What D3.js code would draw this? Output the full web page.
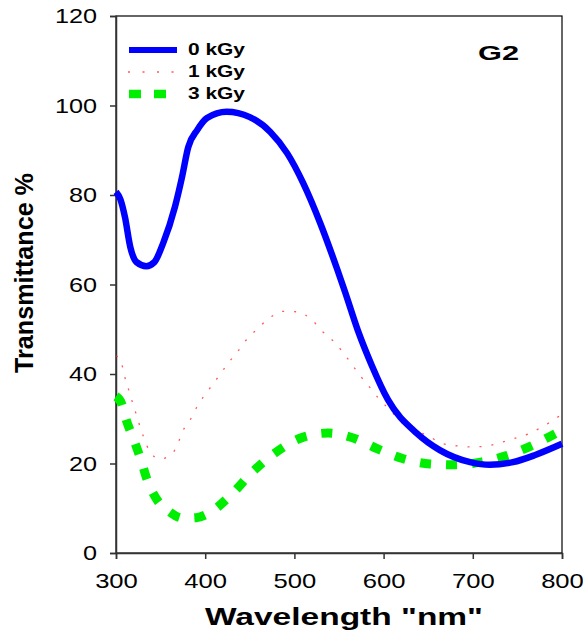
<!DOCTYPE html>
<html>
<head>
<meta charset="utf-8">
<script src="https://cdn.jsdelivr.net/npm/d3@7/dist/d3.min.js"></script>
<style>
  body { margin: 0; background: #fff; }
  text { font-family: Arial, "Liberation Sans", sans-serif; }
</style>
</head>
<body>
<div id="chart"></div>
<script>
// 0 kGy
var wl0 = [300,305,310,316,323,334,343,353,366,374,381,391,402,424,450,473,492,510,529,548,557,571,587,605,637,663,697,719,745,770,800];
var t0  = [80.7,79,75.1,68.4,65,64.1,65,69.3,77.3,84,90.7,94.5,97.2,98.6,97.4,94.1,89.3,82.6,73.7,63.4,58.2,49.8,41.8,34.2,26.8,23,20.3,19.7,20.3,21.9,24.4];

// 1 kGy
var wl1 = [300,304,308,311,315,319,323,327,331,337,349,363,370,375,383,390,398,407,417,426,436,446,458,472,487,503,520,532,545,555,565,575,585,595,607,621,636,652,667,684,699,715,730,745,762,778,794,800];
var t1  = [44,43.6,41,38.4,36,33.3,30.8,28.2,25.9,23,21,22.2,24.8,27.3,29.7,32.4,34.9,37.3,40,42.5,44.9,47.6,50,52.5,54,53.9,52,49.4,47.1,44.7,42,39.3,36.9,34.4,32,29,27.5,25.9,24.4,23.9,23.7,23.9,24.6,25.5,26.6,28.2,30.2,31];

// 3 kGy
var wl3 = [300,306,311,320,328,335,347,360,375,390,404,431,453,480,510,538,566,594,623,652,680,709,737,765,794,800];
var t3  = [35,33.5,30,25.3,20.8,16.3,11.6,9.2,7.8,7.9,8.9,13.4,18.1,22.6,25.9,26.8,25.7,23.2,21,19.9,19.7,20.3,21.7,23.9,26.8,27.4];

var xTicks = [300,400,500,600,700,800];
var yTicks = [0,20,40,60,80,100,120];
var seriesNames = ["0 kGy","1 kGy","3 kGy"];

var W = 583, H = 635;
var padL = 116, padR = 562, padT = 16, padB = 553;

var svg = d3.select("#chart").append("svg")
            .attr("width", W)
            .attr("height", H);

var x = d3.scaleLinear().domain([300,800]).range([padL,padR]);
var y = d3.scaleLinear().domain([0,120]).range([padB,padT]);

// the source picture is stretched sideways, so widen the glyphs
function widen(sel, k) {
  sel.each(function() {
    var len = this.getComputedTextLength();
    d3.select(this).attr("textLength", len * k).attr("lengthAdjust", "spacingAndGlyphs");
  });
}

// frame
svg.append("rect")
   .attr("x", padL).attr("y", padT)
   .attr("width", padR-padL).attr("height", padB-padT)
   .attr("fill", "none").attr("stroke", "#000").attr("stroke-width", 1.2);

var xAxis = svg.append("g")
   .attr("transform", "translate(0," + padB + ")")
   .call(d3.axisBottom(x).tickValues(xTicks).tickSize(6).tickPadding(14));
var yAxis = svg.append("g")
   .attr("transform", "translate(" + padL + ",0)")
   .call(d3.axisLeft(y).tickValues(yTicks).tickSize(6).tickPadding(13));

[xAxis, yAxis].forEach(function(a) {
  a.select(".domain").attr("stroke", "#333").attr("stroke-width", 1.5);
  a.selectAll(".tick line").attr("stroke", "#333").attr("stroke-width", 1.5);
  a.selectAll(".tick text")
   .attr("fill", "#000")
   .style("font-size", "21px")
   .style("font-family", "Arial, 'Liberation Sans', sans-serif");
});
widen(xAxis.selectAll(".tick text"), 1.22);
widen(yAxis.selectAll(".tick text"), 1.2);

var line = d3.line()
   .x(function(d) { return x(d[0]); })
   .y(function(d) { return y(d[1]); })
   .curve(d3.curveMonotoneX);

var plot = svg.append("g");

plot.append("path")
   .datum(d3.zip(wl3, t3))
   .attr("d", line)
   .attr("fill", "none")
   .attr("stroke", "#00ee00")
   .attr("stroke-width", 9)
   .attr("stroke-dasharray", "11,15");

plot.append("path")
   .datum(d3.zip(wl1, t1))
   .attr("d", line)
   .attr("fill", "none")
   .attr("stroke", "#ff3030")
   .attr("stroke-opacity", 0.8)
   .attr("stroke-width", 1.3)
   .attr("stroke-dasharray", "2,10");

plot.append("path")
   .datum(d3.zip(wl0, t0))
   .attr("d", line)
   .attr("fill", "none")
   .attr("stroke", "#0000ff")
   .attr("stroke-width", 6.5);

// legend
var legY = [50, 72, 94];
var leg = svg.append("g");
leg.append("line").attr("x1", 129).attr("x2", 177).attr("y1", legY[0]).attr("y2", legY[0])
   .attr("stroke", "#0000ff").attr("stroke-width", 6);
leg.append("line").attr("x1", 128).attr("x2", 177).attr("y1", legY[1]).attr("y2", legY[1])
   .attr("stroke", "#ff3030").attr("stroke-opacity", 0.8).attr("stroke-width", 1.3)
   .attr("stroke-dasharray", "2,12.5");
leg.append("line").attr("x1", 129).attr("x2", 177).attr("y1", legY[2]).attr("y2", legY[2])
   .attr("stroke", "#00ee00").attr("stroke-width", 8.5).attr("stroke-dasharray", "12,13");
var legText = leg.selectAll("text")
   .data(seriesNames)
   .enter()
   .append("text")
   .attr("x", 188)
   .attr("y", function(d, i) { return legY[i] + 5; })
   .style("font-size", "16.5px")
   .style("font-weight", "bold")
   .text(function(d) { return d; });
legText.attr("textLength", 57).attr("lengthAdjust", "spacingAndGlyphs");

svg.append("text")
   .attr("x", 498.5).attr("y", 60)
   .attr("text-anchor", "middle")
   .style("font-size", "21px")
   .style("font-weight", "bold")
   .attr("textLength", 41).attr("lengthAdjust", "spacingAndGlyphs")
   .text("G2");

svg.append("text")
   .attr("transform", "translate(33,273) rotate(-90)")
   .attr("text-anchor", "middle")
   .style("font-size", "25px")
   .style("font-weight", "bold")
   .attr("textLength", 200).attr("lengthAdjust", "spacingAndGlyphs")
   .text("Transmittance %");

svg.append("text")
   .attr("x", 344).attr("y", 625)
   .attr("text-anchor", "middle")
   .style("font-size", "24px")
   .style("font-weight", "bold")
   .attr("textLength", 278).attr("lengthAdjust", "spacingAndGlyphs")
   .text("Wavelength \"nm\"");
</script>
</body>
</html>
